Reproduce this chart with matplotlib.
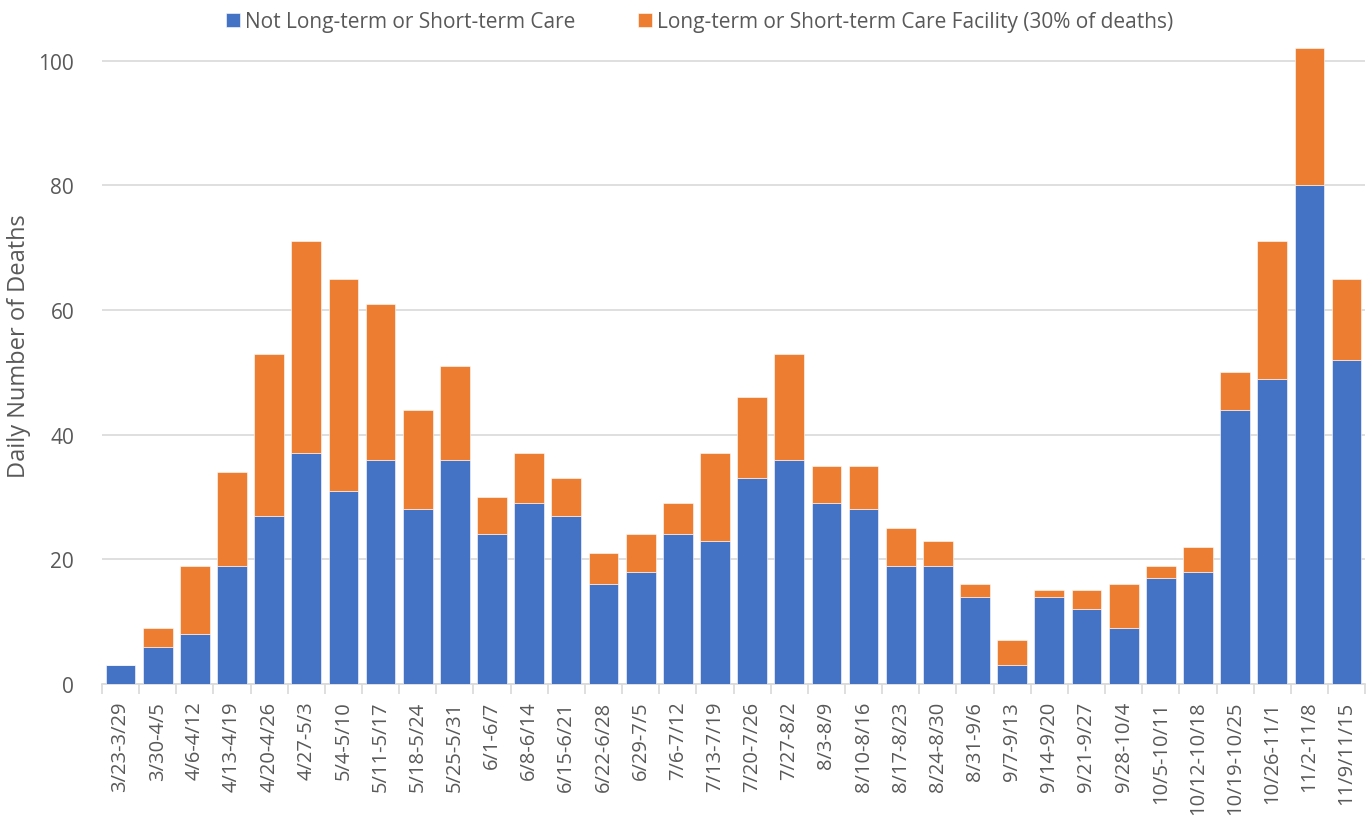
import matplotlib.pyplot as plt
import numpy as np

weeks = ['3/23-3/29', '3/30-4/5', '4/6-4/12', '4/13-4/19', '4/20-4/26', '4/27-5/3',
         '5/4-5/10', '5/11-5/17', '5/18-5/24', '5/25-5/31', '6/1-6/7', '6/8-6/14',
         '6/15-6/21', '6/22-6/28', '6/29-7/5', '7/6-7/12', '7/13-7/19', '7/20-7/26',
         '7/27-8/2', '8/3-8/9', '8/10-8/16', '8/17-8/23', '8/24-8/30', '8/31-9/6',
         '9/7-9/13', '9/14-9/20', '9/21-9/27', '9/28-10/4', '10/5-10/11', '10/12-10/18',
         '10/19-10/25', '10/26-11/1', '11/2-11/8', '11/9/11/15']

not_ltc = [3, 6, 8, 19, 27, 37, 31, 36, 28, 36, 24, 29, 27, 16, 18, 24, 23, 33,
           36, 29, 28, 19, 19, 14, 3, 14, 12, 9, 17, 18, 44, 49, 80, 52]
totals = [3, 9, 19, 34, 53, 71, 65, 61, 44, 51, 30, 37, 33, 21, 24, 29, 37, 46,
          53, 35, 35, 25, 23, 16, 7, 15, 15, 16, 19, 22, 50, 71, 102, 65]
ltc = [t - n for t, n in zip(totals, not_ltc)]

plt.rcParams['font.family'] = ['Open Sans', 'DejaVu Sans']
gray = '#595959'

fig = plt.figure(figsize=(13.72, 8.29), dpi=100)
ax = fig.add_axes([0.0743, 0.1737, 0.9207, 0.767])

x = np.arange(len(weeks))
ax.bar(x, not_ltc, width=0.8, color='#4472C4', edgecolor='white', linewidth=0.4,
       label='Not Long-term or Short-term Care', zorder=3)
ax.bar(x, ltc, width=0.8, bottom=not_ltc, color='#ED7D31', edgecolor='white', linewidth=0.4,
       label='Long-term or Short-term Care Facility (30% of deaths)', zorder=3)

ax.set_xlim(-0.5, len(weeks) - 0.5)
ax.set_ylim(0, 102)
ax.set_yticks([0, 20, 40, 60, 80, 100])
ax.grid(axis='y', color='#D9D9D9', linewidth=1.2, zorder=0)

ax.set_xticks(x)
ax.set_xticklabels(weeks, rotation=90, va='top', ha='center')
ax.set_xticks(np.arange(-0.5, len(weeks), 1), minor=True)
ax.tick_params(axis='x', which='major', length=0, pad=12, labelsize=14.5, labelcolor=gray)
ax.tick_params(axis='x', which='minor', length=7, color='#D9D9D9', width=1.2)
ax.tick_params(axis='y', length=0, labelsize=15, labelcolor=gray, pad=20)

for s in ['top', 'right', 'left']:
    ax.spines[s].set_visible(False)
ax.spines['bottom'].set_color('#D9D9D9')
ax.spines['bottom'].set_linewidth(1.2)

ax.set_ylabel('Daily Number of Deaths', fontsize=17, color=gray)
ax.yaxis.set_label_coords(-0.056, 0.533)

fig.legend(loc='upper center', bbox_to_anchor=(0.51, 1.008), ncol=2, frameon=False,
           fontsize=15, labelcolor=gray, handlelength=0.65, handleheight=0.65,
           handletextpad=0.25, columnspacing=3)

plt.savefig('out.png', dpi=100)
